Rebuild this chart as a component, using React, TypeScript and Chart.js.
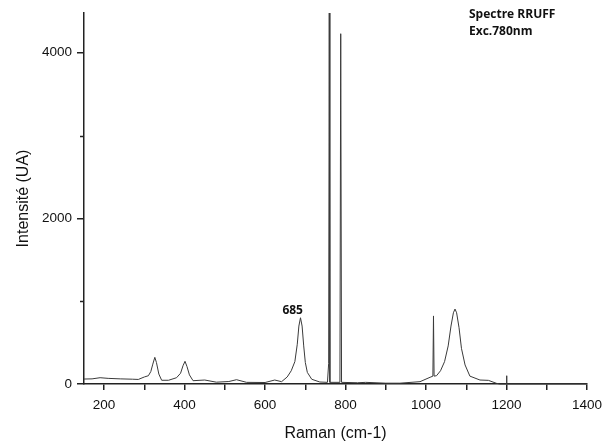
import { useEffect, useRef } from 'react';
import { Chart, registerables } from 'chart.js';
Chart.register(...registerables);

const ramanShift = [
  150, 170, 190, 210, 240, 270, 285, 300, 310, 316, 321, 326, 330, 336, 343, 360, 380, 390, 396, 401,
  406, 412, 421, 450, 479, 510, 529, 554, 600, 624, 641, 655, 665, 674, 680, 684, 688, 692, 696, 700,
  705, 716, 736, 755, 758, 759.5, 761, 786, 788, 790, 830, 850, 900, 935, 985, 1010, 1017, 1018.5,
  1020, 1026, 1036, 1046, 1055, 1062, 1068, 1072, 1076, 1082, 1088, 1097, 1109, 1134, 1155, 1175,
  1183, 1199, 1200, 1201, 1400,
];
const intensity = [
  60, 62, 76, 68, 62, 58, 55, 85, 100, 150, 240, 322, 260, 120, 45, 45, 76, 130, 220, 274,
  210, 110, 40, 48, 22, 30, 52, 20, 18, 48, 28, 85, 160, 270, 480, 700, 800, 700, 460, 260,
  140, 57, 24, 20, 250, 4480, 20, 20, 4230, 20, 15, 20, 10, 10, 28, 81, 95, 822,
  95, 100, 160, 270, 460, 700, 860, 905, 860, 680, 431, 230, 95, 48, 44, 8,
  0, 0, 100, 0, 0,
];
const xTickValues = [200, 300, 400, 500, 600, 700, 800, 900, 1000, 1100, 1200, 1300, 1400];
const xLabelValues = [200, 400, 600, 800, 1000, 1200, 1400];
const yTickValues = [0, 1000, 2000, 3000, 4000];
const yLabelValues = [0, 2000, 4000];
const xMin = 150;
const xMax = 1400;
const yMin = 0;
const yMax = 4480;
const peakLabel = '685';
const peakLabelX = 686;
const peakLabelY = 800;
const noteLines = ['Spectre RRUFF', 'Exc.780nm'];
const xTitle = 'Raman (cm-1)';
const yTitle = 'Intensité (UA)';

const textPlugin = {
  id: 'annotText',
  afterDraw(chart: any) {
    const ctx = chart.ctx;
    const xs = chart.scales.x;
    const ys = chart.scales.y;
    ctx.save();
    // minor y ticks (shorter)
    ctx.strokeStyle = '#222';
    ctx.lineWidth = 1.5;
    yTickValues
      .filter((v) => !yLabelValues.includes(v))
      .forEach((v) => {
        const py = Math.round(ys.getPixelForValue(v)) + 0.5;
        ctx.beginPath();
        ctx.moveTo(xs.left - 4, py);
        ctx.lineTo(xs.left, py);
        ctx.stroke();
      });
    ctx.fillStyle = '#111';
    ctx.font = 'bold 12px "Open Sans", "Noto Sans", sans-serif';
    ctx.textAlign = 'center';
    ctx.textBaseline = 'bottom';
    ctx.fillText(peakLabel, xs.getPixelForValue(peakLabelX) - 7, ys.getPixelForValue(peakLabelY) - 1);
    ctx.textAlign = 'left';
    ctx.textBaseline = 'middle';
    noteLines.forEach((t, i) => ctx.fillText(t, 469, 15 + i * 17));
    ctx.restore();
  },
};

export default function App() {
  const ref = useRef<HTMLCanvasElement>(null);
  useEffect(() => {
    const chart = new Chart(ref.current!, {
      type: 'line',
      data: {
        datasets: [
          {
            data: ramanShift.map((x, i) => ({ x, y: intensity[i] })),
            borderColor: '#3a3a3a',
            borderWidth: 1,
            pointRadius: 0,
            tension: 0,
            fill: false,
            clip: 4,
          },
        ],
      },
      options: {
        animation: false,
        responsive: false,
        maintainAspectRatio: false,
        layout: { padding: { left: 0, right: 16, top: 13, bottom: 0 } },
        plugins: { legend: { display: false }, tooltip: { enabled: false } },
        scales: {
          x: {
            type: 'linear',
            min: xMin,
            max: xMax,
            afterBuildTicks: (s: any) => {
              s.ticks = xTickValues.map((value) => ({ value }));
            },
            afterFit: (s: any) => {
              s.height = 62;
              s.paddingRight = 0;
              s.paddingLeft = 0;
            },
            ticks: {
              color: '#111',
              font: { family: '"Liberation Sans", Arial, sans-serif', size: 13.5 },
              padding: 7,
              maxRotation: 0,
              autoSkip: false,
              callback: (v: any) => (xLabelValues.includes(Number(v)) ? String(v) : ''),
            },
            grid: { drawOnChartArea: false, drawTicks: true, tickLength: 6, color: '#222', lineWidth: 1.5 },
            border: { display: true, color: '#222', width: 1.5 },
            title: {
              display: true,
              text: xTitle,
              color: '#111',
              font: { family: '"Liberation Sans", Arial, sans-serif', size: 16 },
              padding: { top: 0, bottom: 3 },
            },
          },
          y: {
            type: 'linear',
            min: yMin,
            max: yMax,
            afterBuildTicks: (s: any) => {
              s.ticks = yTickValues.map((value) => ({ value }));
            },
            afterFit: (s: any) => {
              s.width = 84;
              s.paddingTop = 0;
              s.paddingBottom = 0;
            },
            ticks: {
              color: '#111',
              font: { family: '"Liberation Sans", Arial, sans-serif', size: 13.5 },
              padding: 5,
              autoSkip: false,
              callback: (v: any) => (yLabelValues.includes(Number(v)) ? String(v) : ''),
            },
            grid: {
              drawOnChartArea: false,
              drawTicks: true,
              tickLength: 7,
              lineWidth: 1.5,
              tickColor: (c: any) => (yLabelValues.includes(c.tick?.value) ? '#222' : 'rgba(0,0,0,0)'),
            },
            border: { display: true, color: '#222', width: 1.5 },
            title: {
              display: true,
              text: yTitle,
              color: '#111',
              font: { family: '"Liberation Sans", Arial, sans-serif', size: 16 },
              padding: { top: 14, bottom: 0 },
            },
          },
        },
      },
      plugins: [textPlugin],
    });
    return () => chart.destroy();
  }, []);
  return (
    <div style={{ position: 'absolute', left: 0, top: 0, width: 603, height: 446, background: '#fff' }}>
      <canvas ref={ref} width={603} height={446} style={{ width: 603, height: 446 }} />
    </div>
  );
}
